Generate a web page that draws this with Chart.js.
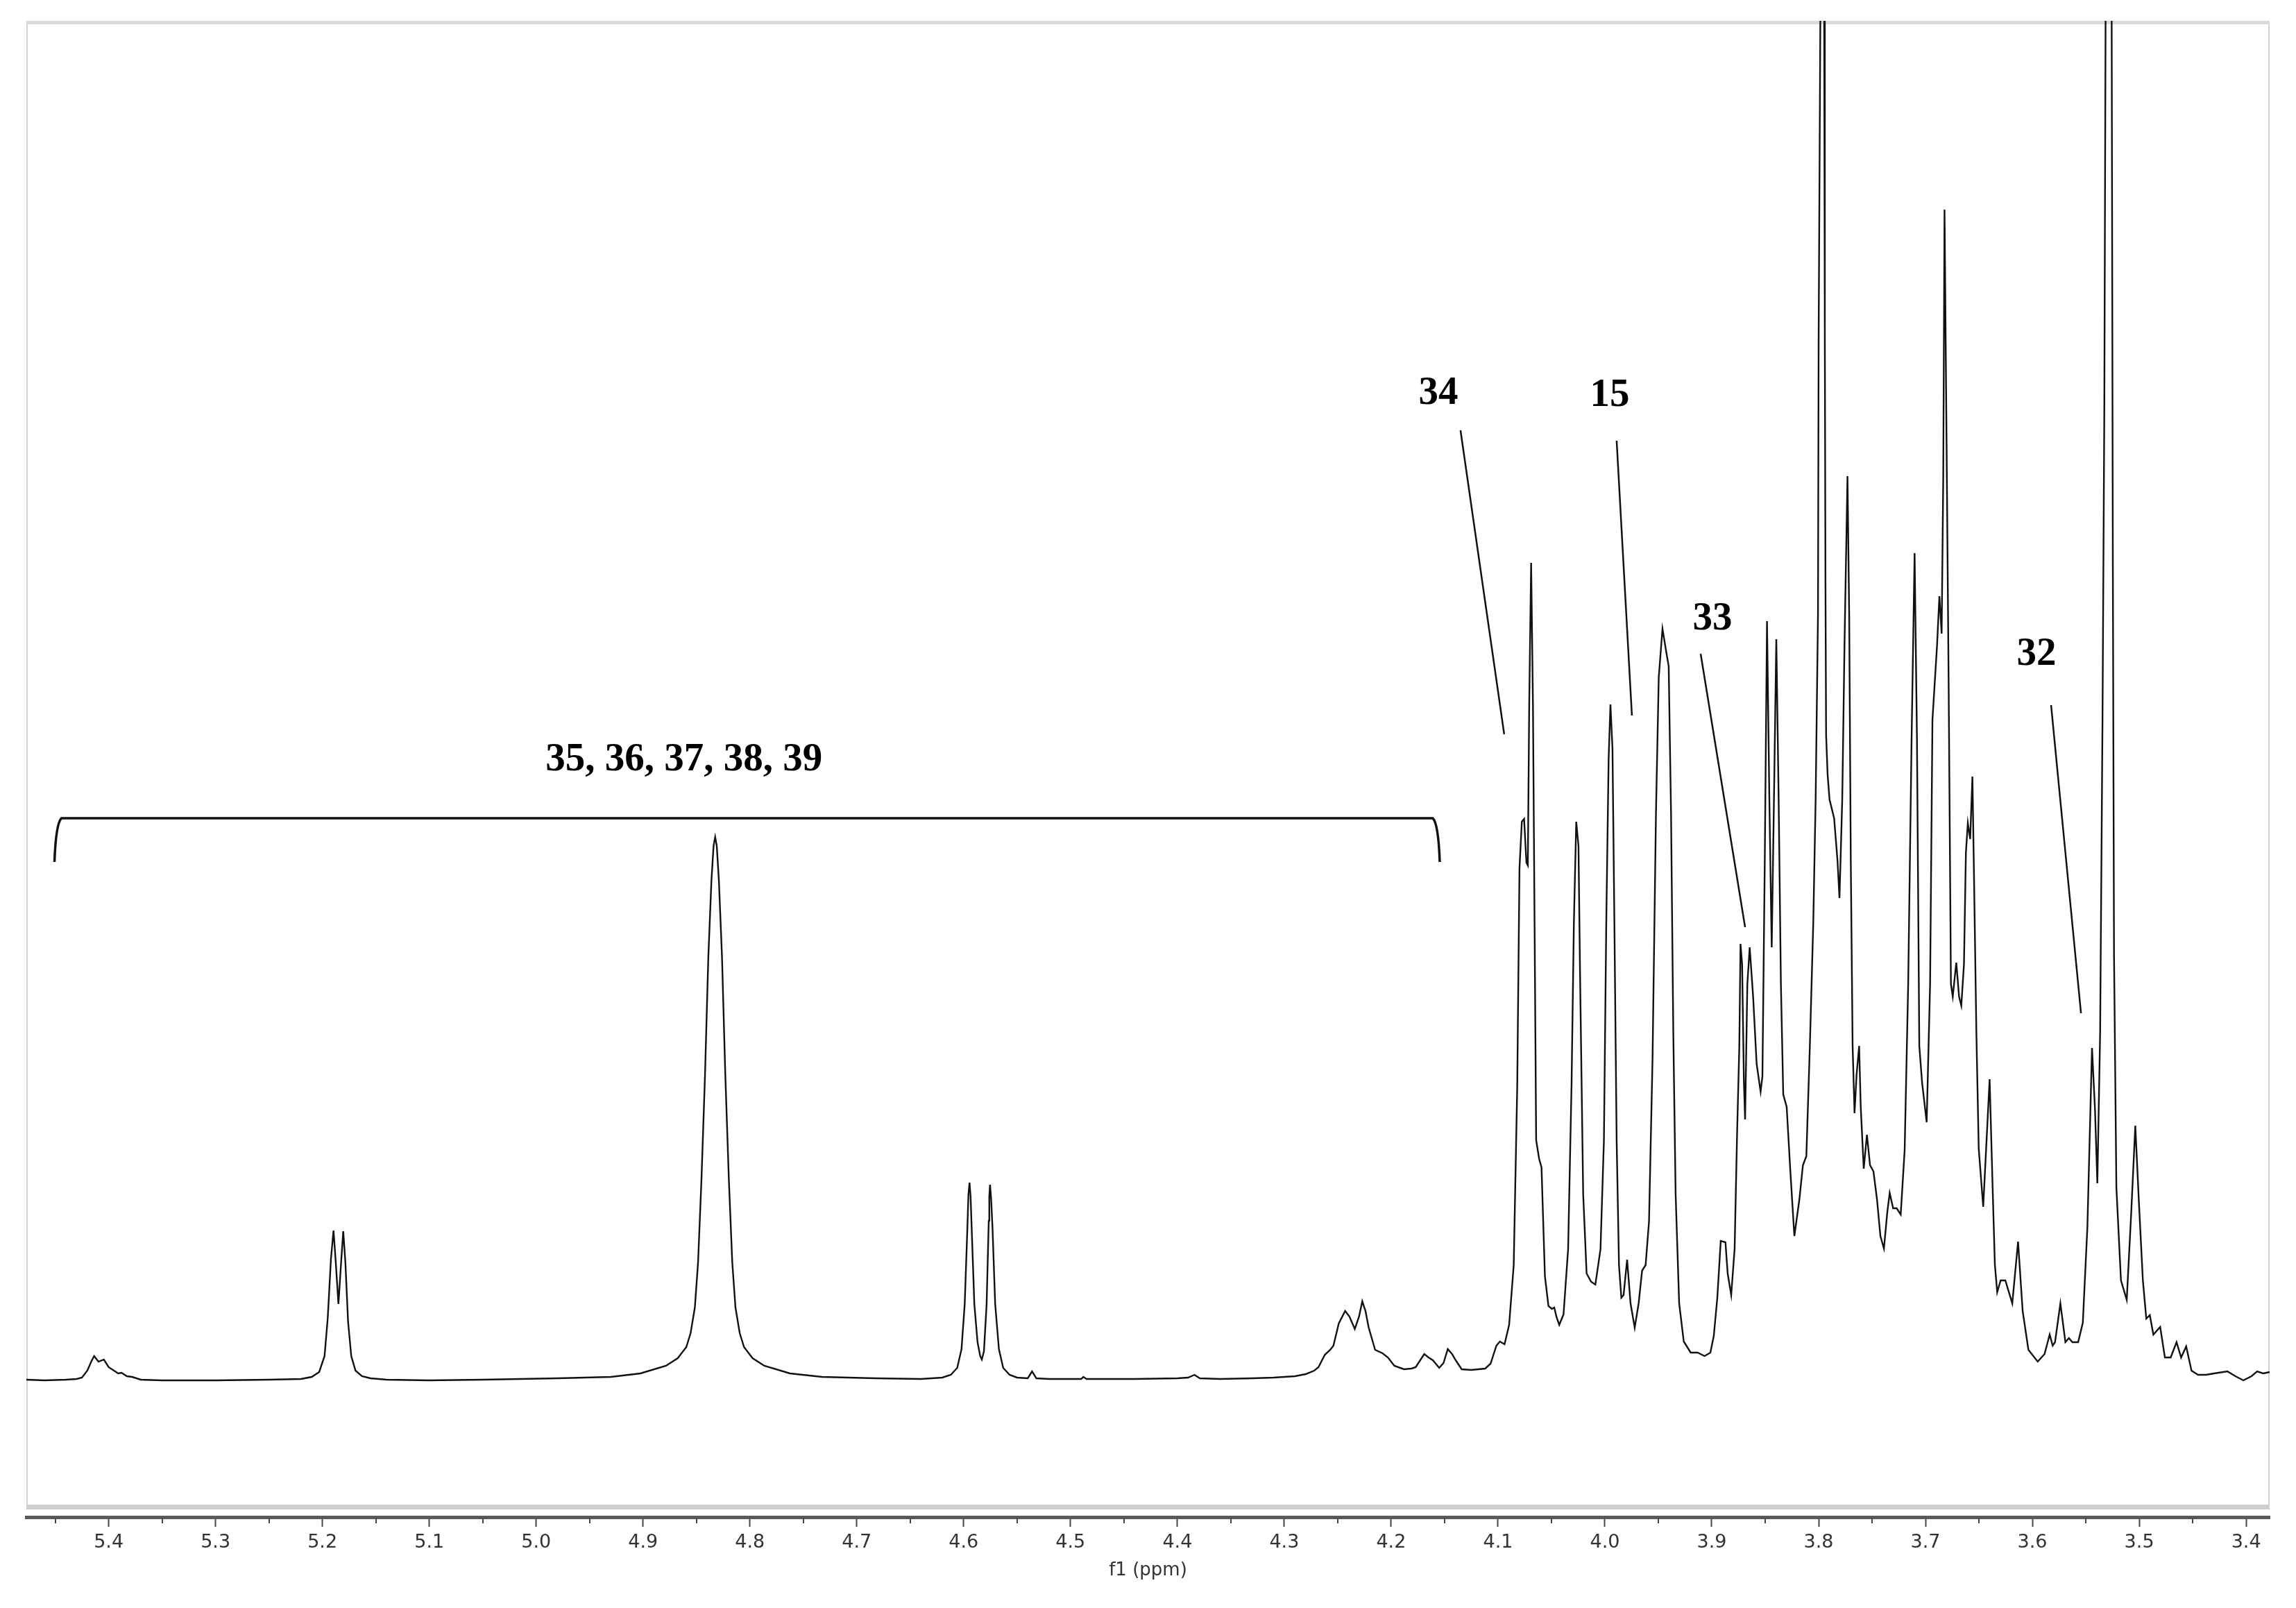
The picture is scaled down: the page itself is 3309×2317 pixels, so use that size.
<!DOCTYPE html>
<html>
<head>
<meta charset="utf-8">
<script src="https://cdn.jsdelivr.net/npm/chart.js@4.4.1/dist/chart.umd.min.js"></script>
<style>
html,body{margin:0;padding:0;background:#ffffff;}
#wrap{width:3309px;height:2317px;position:relative;}
</style>
</head>
<body>
<div id="wrap"><canvas id="c" width="3309" height="2317"></canvas></div>
<script>
// ---- spectrum (chemical shift in ppm, intensity in arbitrary units) ----
const shiftPpm = [
5.477,5.460,5.440,5.430,5.425,5.420,5.416,5.4136,5.4095,5.4045,5.400,5.395,5.391,5.388,5.383,5.378,5.370,5.350,5.300,5.250,
5.220,5.210,5.203,5.198,5.195,5.192,5.1896,5.1875,5.185,5.1825,5.1805,5.1785,5.176,5.173,5.169,5.163,5.155,5.140,5.100,5.050,
4.980,4.930,4.9025,4.8785,4.8675,4.8595,4.8555,4.8515,4.8485,4.8453,4.842,4.8389,4.836,4.834,4.8325,4.831,4.829,4.8261,4.823,4.8197,4.8165,4.8135,4.8095,4.8055,4.7975,4.7865,
4.7625,4.7325,4.6825,4.640,4.620,4.612,4.606,4.602,4.599,4.5965,4.5955,4.5945,4.5935,4.5925,4.590,4.587,4.5845,4.583,4.581,4.5785,4.5765,4.5760,4.5753,4.5743,
4.573,4.5705,4.567,4.563,4.557,4.550,4.540,4.536,4.532,4.520,4.490,4.488,4.485,4.440,4.400,4.390,4.384,4.379,4.360,4.330,
4.310,4.300,4.290,4.280,4.272,4.268,4.262,4.257,4.254,4.249,4.243,4.239,4.234,4.230,4.227,4.224,4.221,4.215,4.208,4.203,
4.197,4.188,4.181,4.177,4.169,4.165,4.161,4.155,4.151,4.147,4.143,4.140,4.134,4.125,4.112,4.107,4.1015,4.0983,4.0939,4.0896,
4.0853,4.0820,4.0799,4.0777,4.0756,4.0734,4.0721,4.0708,4.0690,4.0673,4.0658,4.0643,4.0615,4.0593,4.0561,4.0528,4.0496,4.0474,4.0452,4.0427,
4.0387,4.0344,4.0312,4.0290,4.0268,4.0247,4.0232,4.0203,4.0171,4.0128,4.0089,4.0041,4.0009,3.9987,3.9965,3.9948,3.9929,3.9911,3.9890,3.9868,
3.9846,3.9825,3.9792,3.9760,3.9721,3.9684,3.9652,3.9619,3.9587,3.9554,3.9522,3.9496,3.9461,3.9424,3.9403,3.9381,3.9360,3.9338,3.9305,3.9262,
3.9197,3.9132,3.9067,3.9013,3.8981,3.8948,3.8916,3.8872,3.8851,3.8818,3.8786,3.8764,3.8742,3.8731,3.8716,3.8699,3.8688,3.8667,3.8645,3.8613,
3.8580,3.8543,3.8526,3.8504,3.8483,3.8461,3.8439,3.8418,3.8396,3.8374,3.8353,3.8331,3.8299,3.8266,3.8227,3.8180,3.8147,3.8115,3.8082,3.8050,
3.8028,3.8006,3.8000,3.7984,3.7966,3.7948,3.7942,3.7936,3.7930,3.7916,3.7898,3.7855,3.7823,3.7805,3.7779,3.7758,3.7730,3.7714,3.7699,3.7682,
3.7664,3.7645,3.7621,3.7606,3.7578,3.7548,3.7519,3.7487,3.7454,3.7422,3.7389,3.7357,3.7335,3.7303,3.7270,3.7232,3.7195,3.7162,3.7130,3.7102,
3.7080,3.7058,3.7032,3.6989,3.6957,3.6935,3.6892,3.6870,3.6849,3.6834,3.6822,3.6800,3.6784,3.6762,3.6745,3.6712,3.6686,3.6665,3.6640,3.6622,
3.6604,3.6582,3.6561,3.6546,3.6524,3.6502,3.6460,3.6400,3.6372,3.6351,3.6329,3.6297,3.6253,3.6188,3.6134,3.6091,3.6037,3.5950,3.5886,3.5838,
3.5810,3.5788,3.5738,3.5691,3.5658,3.5626,3.5572,3.5528,3.5485,3.5442,3.5414,3.5392,3.5366,3.5344,3.5327,3.5315,3.5287,3.5258,3.5247,3.5236,
3.5214,3.5171,3.5117,3.5074,3.5037,3.5003,3.4966,3.4934,3.4901,3.4868,3.4804,3.4760,3.4706,3.4651,3.4608,3.4561,3.4511,3.4450,3.4377,3.4300,
3.4175,3.4100,3.4026,3.3950,3.3897,3.3840,3.3780
];
const intensity = [
1,0,1,2,4,14,28,35,27,30,19,14,10,11,6,5,1,0,0,1,
2,5,12,35,90,175,216,170,110,170,215,170,85,35,14,6,3,1,0,1,
3,5,10,21,32,48,68,105,170,290,440,610,720,770,783,770,720,610,440,290,170,105,68,48,32,21,
10,5,3,2,4,8,18,45,110,220,268,285,265,220,110,55,35,30,42,110,230,265,282,262,
220,110,45,18,8,4,3,13,3,2,2,5,2,2,3,4,8,3,2,3,
4,5,6,9,14,19,37,44,50,82,100,92,74,92,114,100,76,44,39,33,
21,16,17,19,38,33,29,18,25,45,38,30,16,15,17,24,50,56,52,80,
166,425,738,805,809,746,742,974,1178,974,660,346,319,307,150,107,103,105,91,80,
95,189,425,660,805,770,582,268,154,142,138,189,346,660,895,974,911,660,346,166,
119,123,174,111,76,111,158,166,229,464,817,1013,1083,1048,1029,817,503,268,111,56,
40,40,35,40,64,119,201,199,154,123,190,349,482,629,600,429,376,571,624,553,
456,416,438,748,1094,837,624,837,1068,837,571,412,394,305,208,261,310,323,482,660,
837,1103,1498,1960,2300,1960,1500,1150,930,873,837,810,748,695,837,1059,1303,1103,748,482,
385,440,482,394,305,354,310,301,261,208,190,243,270,248,248,239,332,571,926,1192,
926,482,429,372,571,952,1059,1130,1076,1300,1687,1300,1014,571,553,602,553,540,600,760,
803,780,870,725,501,334,250,434,278,167,127,144,144,111,200,100,44,27,38,66,
50,55,111,55,61,55,55,83,222,479,390,284,501,948,1394,1960,2400,1960,1171,613,
278,144,116,245,367,256,144,89,94,66,77,33,33,55,33,49,14,8,8,10,
13,6,0,6,13,10,12
];

// ---- axis ----
const xLeftPpm = 5.477;
const xRightPpm = 3.378;
const majorTicks = [5.4,5.3,5.2,5.1,5.0,4.9,4.8,4.7,4.6,4.5,4.4,4.3,4.2,4.1,4.0,3.9,3.8,3.7,3.6,3.5,3.4];
const minorTicks = [5.45,5.35,5.25,5.15,5.05,4.95,4.85,4.75,4.65,4.55,4.45,4.35,4.25,4.15,4.05,3.95,3.85,3.75,3.65,3.55,3.45];
const axisTitle = 'f1 (ppm)';
const yBottom = -197, yTop = 1959, frameBottom = -183;

// ---- annotations ----
const labelTexts = ['35, 36, 37, 38, 39', '34', '15', '33', '32'];
const labelPpm   = [4.8617, 4.1558, 3.9955, 3.8994, 3.5961];
const labelBase  = [879, 1407, 1404, 1082, 1031];
const leaderStartPpm = [4.1351, 3.9890, 3.9104, 3.5825];
const leaderStartI   = [1369, 1354, 1047, 973];
const leaderEndPpm   = [4.0942, 3.9747, 3.8688, 3.5545];
const leaderEndI     = [931, 958, 653, 529];
const bracketPpm = [5.4494, 4.1558];
const bracketTopI = 810, bracketFootI = 747;

const points = shiftPpm.map((p, i) => ({x: p, y: intensity[i]}));

const decor = {
  id: 'decor',
  beforeDatasetsDraw(chart) {
    const {ctx, chartArea} = chart;
    const ys = chart.scales.y;
    const l = chartArea.left, r = chartArea.right, t = chartArea.top;
    const b = ys.getPixelForValue(frameBottom);
    ctx.save();
    ctx.strokeStyle = '#d2d2d2';
    ctx.lineWidth = 2;
    ctx.beginPath();
    ctx.moveTo(l + 1, t); ctx.lineTo(l + 1, b);
    ctx.moveTo(r - 1, t); ctx.lineTo(r - 1, b);
    ctx.stroke();
    ctx.fillStyle = '#dadada';
    ctx.fillRect(l, t, r - l, 5);
    ctx.fillStyle = '#cfcfcf';
    ctx.fillRect(l, b - 4, r - l, 7);
    ctx.restore();
  },
  afterDraw(chart) {
    const {ctx, chartArea} = chart;
    const xs = chart.scales.x, ys = chart.scales.y;
    ctx.save();
    // minor ticks
    ctx.strokeStyle = '#444';
    ctx.lineWidth = 2;
    ctx.beginPath();
    minorTicks.forEach(v => {
      const px = Math.round(xs.getPixelForValue(v));
      ctx.moveTo(px, chartArea.bottom + 2);
      ctx.lineTo(px, chartArea.bottom + 9);
    });
    ctx.stroke();
    // leader lines
    ctx.strokeStyle = '#111';
    ctx.lineWidth = 2.5;
    ctx.beginPath();
    leaderStartPpm.forEach((p, i) => {
      ctx.moveTo(xs.getPixelForValue(p), ys.getPixelForValue(leaderStartI[i]));
      ctx.lineTo(xs.getPixelForValue(leaderEndPpm[i]), ys.getPixelForValue(leaderEndI[i]));
    });
    ctx.stroke();
    // bracket
    const bl = xs.getPixelForValue(bracketPpm[0]);
    const br = xs.getPixelForValue(bracketPpm[1]);
    const bt = ys.getPixelForValue(bracketTopI);
    const bf = ys.getPixelForValue(bracketFootI);
    const rr = 8;
    ctx.lineWidth = 3.5;
    ctx.beginPath();
    ctx.moveTo(bl - 2, bf);
    ctx.quadraticCurveTo(bl, bt + rr, bl + rr, bt);
    ctx.lineTo(br - rr, bt);
    ctx.quadraticCurveTo(br, bt + rr, br + 2, bf);
    ctx.stroke();
    // labels
    ctx.fillStyle = '#000';
    ctx.font = "bold 57px 'Liberation Serif', 'Times New Roman', serif";
    ctx.textAlign = 'center';
    ctx.textBaseline = 'alphabetic';
    labelTexts.forEach((t, i) => {
      ctx.fillText(t, xs.getPixelForValue(labelPpm[i]), ys.getPixelForValue(labelBase[i]));
    });
    ctx.restore();
  }
};

new Chart(document.getElementById('c'), {
  type: 'line',
  data: {
    datasets: [{
      data: points,
      borderColor: '#111111',
      borderWidth: 2.4,
      pointRadius: 0,
      tension: 0,
      fill: false
    }]
  },
  options: {
    responsive: false,
    maintainAspectRatio: false,
    devicePixelRatio: 1,
    animation: false,
    parsing: true,
    layout: {padding: {left: 38, right: 38, top: 30, bottom: 0}},
    plugins: {legend: {display: false}, tooltip: {enabled: false}},
    scales: {
      x: {
        type: 'linear',
        reverse: true,
        min: xRightPpm,
        max: xLeftPpm,
        afterBuildTicks: (scale) => { scale.ticks = majorTicks.map(v => ({value: v})); },
        afterFit: (scale) => { scale.height = 131; },
        ticks: {
          autoSkip: false,
          maxRotation: 0,
          padding: 7,
          color: '#333',
          font: {family: 'DejaVu Sans', size: 27},
          callback: (v) => Number(v).toFixed(1)
        },
        grid: {drawOnChartArea: false, drawTicks: true, tickLength: 14, tickColor: '#444', tickWidth: 2},
        border: {display: true, color: '#5a5a5a', width: 5},
        title: {display: true, text: axisTitle, color: '#333', font: {family: 'DejaVu Sans', size: 26}, padding: {top: 0, bottom: 38}}
      },
      y: {
        display: false,
        min: yBottom,
        max: yTop
      }
    }
  },
  plugins: [decor]
});
</script>
</body>
</html>
